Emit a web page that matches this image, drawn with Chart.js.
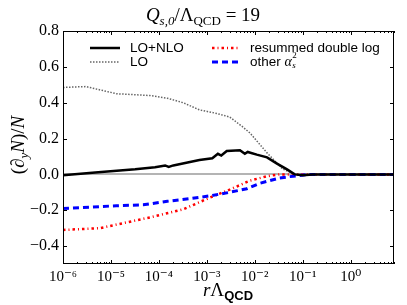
<!DOCTYPE html>
<html>
<head>
<meta charset="utf-8">
<script src="https://cdn.jsdelivr.net/npm/chart.js@4.4.1/dist/chart.umd.min.js"></script>
<style>
html, body { margin: 0; padding: 0; background: #fff; }
#wrap { width: 407px; height: 305px; }
</style>
</head>
<body>
<div id="wrap"><canvas id="chart" width="407" height="305"></canvas></div>
<script>
// ================= DATA =================
const xTicks = [1e-6, 1e-5, 1e-4, 1e-3, 1e-2, 1e-1, 1e0];
const yTicks = [-0.4, -0.2, 0.0, 0.2, 0.4, 0.6, 0.8];

// LO+NLO
const nloX = [1e-6, 4.7e-6, 3.2e-5, 8.3e-5, 1.35e-4, 1.6e-4, 2e-4, 7e-4, 1.3e-3, 1.7e-3, 2e-3, 2.6e-3, 4.9e-3, 6.2e-3, 7.1e-3, 1.1e-2, 1.8e-2, 2.9e-2, 4.7e-2, 6.8e-2, 0.1, 0.16, 8];
const nloY = [-0.005, 0.01, 0.028, 0.04, 0.05, 0.042, 0.05, 0.08, 0.09, 0.115, 0.105, 0.13, 0.135, 0.115, 0.125, 0.11, 0.095, 0.06, 0.028, 0.0, -0.005, 0.0, 0.0];

// LO
const loX = [1e-6, 3e-6, 1.3e-5, 6.5e-5, 1.5e-4, 3.2e-4, 7e-4, 1.6e-3, 3e-3, 5.6e-3, 8e-3, 1.8e-2, 3.8e-2, 6.8e-2, 0.2, 8];
const loY = [0.485, 0.49, 0.45, 0.44, 0.425, 0.40, 0.36, 0.34, 0.32, 0.265, 0.23, 0.12, 0.03, 0.0, 0.0, 0.0];

// resummed double log
const dlX = [1e-6, 5.9e-6, 6.5e-5, 3.2e-4, 1.15e-3, 3e-3, 7.9e-3, 1.8e-2, 3.3e-2, 8];
const dlY = [-0.31, -0.30, -0.24, -0.195, -0.13, -0.085, -0.035, -0.01, 0.0, 0.0];

// other alpha_s^2
const otherX = [1e-6, 1.3e-5, 4.7e-5, 1.5e-4, 4.5e-4, 1.15e-3, 3e-3, 6.8e-3, 1.26e-2, 3.3e-2, 6.3e-2, 0.14, 8];
const otherY = [-0.19, -0.175, -0.17, -0.15, -0.135, -0.12, -0.10, -0.08, -0.05, -0.02, -0.01, 0.0, 0.0];

const pts = (xs, ys) => xs.map((x, i) => ({ x: x, y: ys[i] }));

// ================= TEXT HELPERS =================
const SERIF = '"Liberation Serif", "DejaVu Serif", serif';
const SANS = '"Liberation Sans", Arial, sans-serif';

// draw a list of {t, f, dy} pieces, aligned to (x, y); returns end x
function richText(ctx, parts, x, y, align) {
    let w = 0;
    parts.forEach(p => { ctx.font = p.f; p.w = ctx.measureText(p.t).width; w += p.w; });
    let cx = align === "center" ? x - w / 2 : x;
    ctx.textAlign = "left";
    parts.forEach(p => {
        ctx.font = p.f;
        ctx.fillText(p.t, cx, y + (p.dy || 0));
        cx += p.w;
    });
    return cx;
}

const sup = { "-": "\u207B", "0": "\u2070", "1": "\u00B9", "2": "\u00B2", "3": "\u00B3", "4": "\u2074", "5": "\u2075", "6": "\u2076" };

// ================= PLUGIN: frame, ticks, labels, legend =================
const decor = {
    id: "decor",
    afterDatasetsDraw(chart) {
        const { ctx, chartArea: a, scales: { x, y } } = chart;
        ctx.save();

        // frame
        ctx.strokeStyle = "#000";
        ctx.lineWidth = 1;
        ctx.strokeRect(a.left + 0.5, a.top + 0.5, a.right - a.left - 1, a.bottom - a.top - 1);

        // inside ticks
        ctx.beginPath();
        xTicks.forEach(v => {
            const px = Math.round(x.getPixelForValue(v)) + 0.5;
            ctx.moveTo(px, a.bottom); ctx.lineTo(px, a.bottom - 4);
            ctx.moveTo(px, a.top); ctx.lineTo(px, a.top + 4);
        });
        for (let k = -6; k <= 0; k++) {
            for (let m = 2; m <= 9; m++) {
                const v = m * Math.pow(10, k);
                if (v > x.max) continue;
                const px = Math.round(x.getPixelForValue(v)) + 0.5;
                ctx.moveTo(px, a.bottom); ctx.lineTo(px, a.bottom - 2);
                ctx.moveTo(px, a.top); ctx.lineTo(px, a.top + 2);
            }
        }
        yTicks.forEach(v => {
            const py = Math.round(y.getPixelForValue(v)) + 0.5;
            ctx.moveTo(a.left, py); ctx.lineTo(a.left + 4, py);
            ctx.moveTo(a.right, py); ctx.lineTo(a.right - 4, py);
        });
        ctx.stroke();

        // legend
        const ds = chart.data.datasets;
        const slots = [
            { i: 0, lx: 90, tx: 130, y: 48 },
            { i: 1, lx: 90, tx: 130, y: 62 },
            { i: 2, lx: 212, tx: 250, y: 48 },
            { i: 3, lx: 212, tx: 250, y: 62 }
        ];
        ctx.fillStyle = "#000";
        ctx.textBaseline = "middle";
        slots.forEach(s => {
            const d = ds[s.i];
            ctx.save();
            ctx.strokeStyle = d.borderColor;
            ctx.lineWidth = d.borderWidth;
            ctx.setLineDash(d.borderDash || []);
            ctx.beginPath();
            ctx.moveTo(s.lx, s.y);
            ctx.lineTo(s.lx + (s.i < 2 ? 30 : 26), s.y);
            ctx.stroke();
            ctx.restore();
            if (s.i === 3) {
                const ex = richText(ctx, [
                    { t: "other ", f: "13.5px " + SANS },
                    { t: "\u03B1", f: "italic 14px " + SERIF }
                ], s.tx, s.y, "left");
                ctx.font = "italic 9px " + SERIF;
                ctx.fillText("s", ex + 0.5, s.y + 4);
                ctx.font = "9px " + SERIF;
                ctx.fillText("2", ex + 0.5, s.y - 6);
            } else {
                ctx.font = "13.5px " + SANS;
                ctx.textAlign = "left";
                ctx.fillText(d.label, s.tx, s.y);
            }
        });

        // title
        ctx.textBaseline = "alphabetic";
        richText(ctx, [
            { t: "Q", f: "italic 19px " + SERIF },
            { t: "s,0", f: "italic 13px " + SERIF, dy: 4 },
            { t: "/\u039B", f: "19px " + SERIF },
            { t: "QCD", f: "13px " + SERIF, dy: 4 },
            { t: " = 19", f: "19px " + SERIF }
        ], 203, 21, "center");

        // x label
        richText(ctx, [
            { t: "r", f: "italic 19px " + SERIF },
            { t: "\u039B", f: "19px " + SERIF },
            { t: "QCD", f: "bold 13px " + SANS, dy: 4 }
        ], 228, 296, "center");

        // y label
        ctx.translate(24, 145);
        ctx.rotate(-Math.PI / 2);
        richText(ctx, [
            { t: "(\u2202", f: "19px " + SERIF },
            { t: "y", f: "italic 13px " + SERIF, dy: 4 },
            { t: "N", f: "italic 19px " + SERIF },
            { t: ")/", f: "19px " + SERIF },
            { t: "N", f: "italic 19px " + SERIF }
        ], 0, 0, "center");

        ctx.restore();
    }
};

// ================= CHART =================
new Chart(document.getElementById("chart"), {
    type: "line",
    data: {
        datasets: [
            {
                label: "LO+NLO",
                data: pts(nloX, nloY),
                borderColor: "#000000",
                borderWidth: 2.5,
                order: 0
            },
            {
                label: "LO",
                data: pts(loX, loY),
                borderColor: "#666666",
                borderWidth: 1.5,
                borderDash: [1.5, 1.5],
                order: 3
            },
            {
                label: "resummed double log",
                data: pts(dlX, dlY),
                borderColor: "#ff0000",
                borderWidth: 2.5,
                borderDash: [2.5, 3, 1, 3],
                order: 2
            },
            {
                label: "other \u03B1s\u00B2",
                data: pts(otherX, otherY),
                borderColor: "#0000ff",
                borderWidth: 3,
                borderDash: [6, 4],
                order: 1
            }
        ]
    },
    options: {
        responsive: false,
        animation: false,
        devicePixelRatio: 1,
        layout: { padding: { top: 31, right: 13, left: 0, bottom: 0 } },
        elements: {
            point: { radius: 0 },
            line: { tension: 0, fill: false }
        },
        plugins: {
            legend: { display: false },
            tooltip: { enabled: false }
        },
        scales: {
            x: {
                type: "logarithmic",
                min: 1e-6,
                max: 8,
                afterBuildTicks: s => { s.ticks = xTicks.map(v => ({ value: v })); },
                afterFit: s => { s.height = 41; },
                grid: { display: false, drawTicks: false },
                border: { display: false },
                ticks: {
                    padding: 4,
                    color: "#000",
                    font: { family: SERIF, size: 15 },
                    maxRotation: 0,
                    autoSkip: false,
                    callback: v => "10" + String(Math.round(Math.log10(v))).split("").map(c => sup[c]).join("")
                }
            },
            y: {
                type: "linear",
                min: -0.5,
                max: 0.8,
                afterBuildTicks: s => { s.ticks = yTicks.map(v => ({ value: v })); },
                afterFit: s => { s.width = 63; },
                grid: {
                    drawTicks: false,
                    lineWidth: 2,
                    color: c => (c.tick && c.tick.value === 0 ? "#b4b4b4" : "rgba(0,0,0,0)")
                },
                border: { display: false },
                ticks: {
                    padding: 4,
                    color: "#000",
                    font: { family: SERIF, size: 16 },
                    callback: v => v.toFixed(1).replace("-", "\u2212")
                }
            }
        }
    },
    plugins: [decor]
});
</script>
</body>
</html>
